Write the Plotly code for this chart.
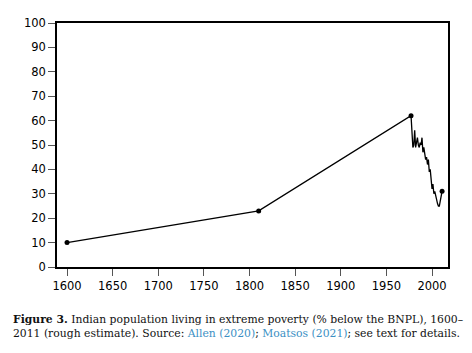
import plotly.graph_objects as go

# Historical rough estimates
hist_years = [1600, 1810, 1977]
hist_values = [10, 23, 62]

# Annual estimates (Moatsos 2021)
ann_years = list(range(1977, 2012))
ann_values = [62, 55, 49, 50, 56, 49, 51, 53, 50, 49, 51, 50, 53, 47, 49, 46, 44, 45,
              42, 44, 39, 40, 36, 32, 34, 30, 31, 29, 27, 26, 25, 25, 27, 30, 31]

marker_years = [1600, 1810, 1977, 2011]
marker_values = [10, 23, 62, 31]

x_ticks = [1600, 1650, 1700, 1750, 1800, 1850, 1900, 1950, 2000]
y_ticks = [0, 10, 20, 30, 40, 50, 60, 70, 80, 90, 100]

fig = go.Figure()
fig.add_trace(go.Scatter(x=hist_years + ann_years[1:], y=hist_values + ann_values[1:],
                         mode="lines", line=dict(color="black", width=1.3),
                         hoverinfo="skip", showlegend=False))
fig.add_trace(go.Scatter(x=marker_years, y=marker_values, mode="markers",
                         marker=dict(color="black", size=5), showlegend=False))

axis_common = dict(showline=True, linecolor="black", linewidth=1.5, mirror=True,
                   ticks="outside", ticklen=7, tickcolor="#555", tickwidth=1.3,
                   showgrid=False, zeroline=False,
                   tickfont=dict(family="DejaVu Sans", size=11.5, color="black"))

fig.update_xaxes(range=[1589, 2017.5], tickvals=x_ticks, **axis_common)
fig.update_yaxes(range=[0, 100], tickvals=y_ticks, **axis_common)

blue = "#3b8fc4"
caption = ("<b>Figure 3.</b> Indian population living in extreme poverty (% below the BNPL), 1600–<br>"
           "2011 (rough estimate). Source: <span style='color:" + blue + "'>Allen (2020)</span>; "
           "<span style='color:" + blue + "'>Moatsos (2021)</span>; see text for details.")
fig.add_annotation(text=caption, xref="paper", yref="paper", x=-0.117, y=-0.18,
                   xanchor="left", yanchor="top", showarrow=False, align="left",
                   font=dict(family="DejaVu Serif", size=10.8, color="#111"))

fig.update_layout(width=472, height=353, margin=dict(l=57, r=24, t=23, b=86),
                  plot_bgcolor="white", paper_bgcolor="white")
fig.write_html("out.html")
